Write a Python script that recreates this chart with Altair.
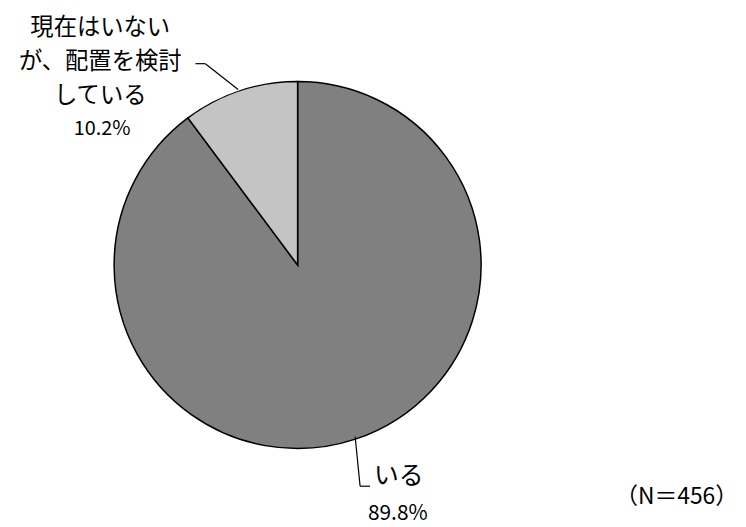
import altair as alt
import pandas as pd

categories = ["いる", "現在はいないが、配置を検討している"]
values = [89.8, 10.2]
colors = ["#808080", "#c4c4c4"]
label_lines = [["いる"], ["現在はいない", "が、配置を検討", "している"]]
pct_labels = ["89.8%", "10.2%"]
note = "（N＝456）"

df = pd.DataFrame({"cat": categories, "val": values, "ord": [0, 1]})
FONT = "Noto Sans CJK JP"

pie = alt.Chart(df).mark_arc(outerRadius=185, stroke="black", strokeWidth=1.5).encode(
    theta=alt.Theta("val:Q", stack=True),
    order=alt.Order("ord:Q"),
    color=alt.Color("cat:N", scale=alt.Scale(domain=categories, range=colors), legend=None),
    x=alt.value(292), y=alt.value(257),
)

base_txt = alt.Chart(pd.DataFrame({"a": [0]}))

def txt(t, x, y, size, align="center"):
    return base_txt.mark_text(text=t, font=FONT, fontSize=size, align=align,
                              baseline="middle", color="black").encode(
        x=alt.value(x), y=alt.value(y))

def rule(x, y, x2, y2):
    return base_txt.mark_rule(color="black", strokeWidth=1.2).encode(
        x=alt.value(x), y=alt.value(y), x2=alt.value(x2), y2=alt.value(y2))

layers = [
    pie,
    txt(label_lines[1][0], 93, 18, 23.5),
    txt(label_lines[1][1], 93, 52.5, 23.5),
    txt(label_lines[1][2], 93, 87, 23.5),
    txt(pct_labels[1], 95, 120, 20),
    txt(label_lines[0][0], 394, 470, 25),
    txt(pct_labels[0], 393, 508, 21),
    txt(note, 736, 491, 23, align="right"),
    rule(189, 54, 199, 54),
    rule(199, 54, 232, 80),
    rule(350, 430, 355, 480),
    rule(355, 480, 365, 480),
]

chart = alt.layer(*layers).properties(
    width=730, height=511, padding=0
).configure_view(stroke=None)

chart.save("out.html", embed_options={"renderer": "svg", "actions": False})
